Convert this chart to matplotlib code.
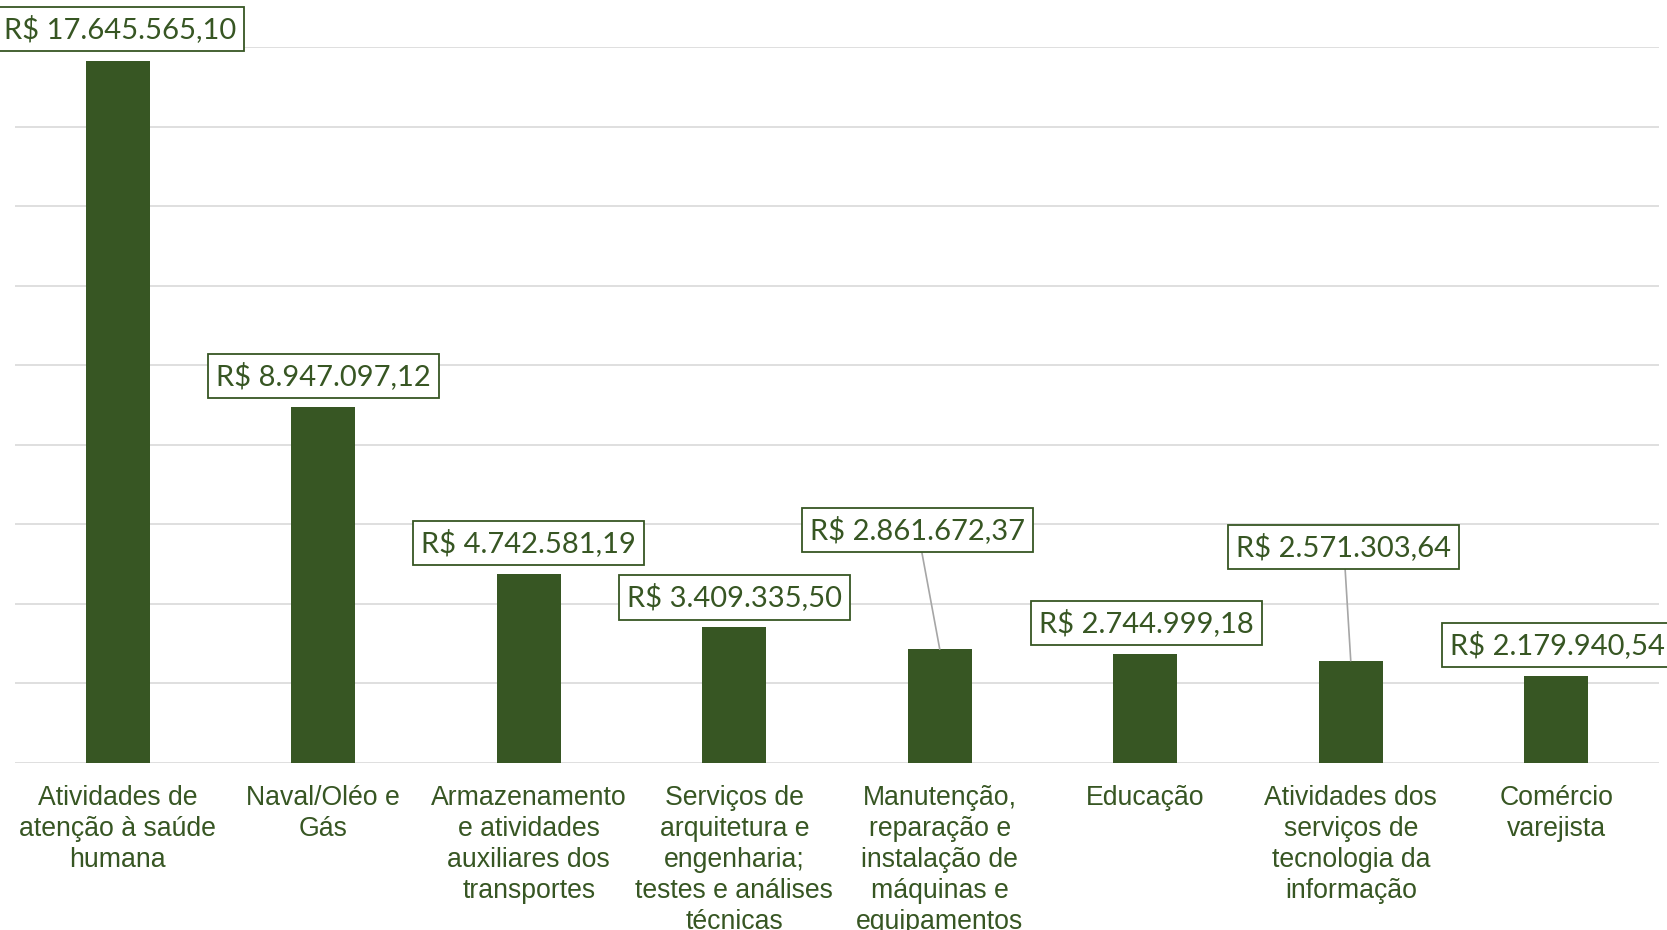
import matplotlib
matplotlib.use("Agg")
import matplotlib.pyplot as plt

categories = [
    "Atividades de\natenção à saúde\nhumana",
    "Naval/Oléo e\nGás",
    "Armazenamento\ne atividades\nauxiliares dos\ntransportes",
    "Serviços de\narquitetura e\nengenharia;\ntestes e análises\ntécnicas",
    "Manutenção,\nreparação e\ninstalação de\nmáquinas e\nequipamentos",
    "Educação",
    "Atividades dos\nserviços de\ntecnologia da\ninformação",
    "Comércio\nvarejista",
]
values = [17645565.10, 8947097.12, 4742581.19, 3409335.50,
          2861672.37, 2744999.18, 2571303.64, 2179940.54]
y_ticks = [0, 2e6, 4e6, 6e6, 8e6, 10e6, 12e6, 14e6, 16e6, 18e6]

# label offsets (pixels, relative to bar top centre)
label_offsets_px = [(2, 32), (0, 31), (0, 31), (0, 30),
                    (-22, 119), (1, 31), (-7, 114), (1, 31)]

GREEN = "#375623"
GRID = "#D9D9D9"


def brl(v):
    s = f"{v:,.2f}"
    s = s.replace(",", "X").replace(".", ",").replace("X", ".")
    return "R$ " + s


fig = plt.figure(figsize=(16.67, 9.30), dpi=100)
ax = fig.add_axes([15 / 1667, 1 - 763 / 930, (1659 - 15) / 1667, (763 - 47) / 930])

x = list(range(len(categories)))
ax.bar(x, values, width=0.31, color=GREEN, zorder=3)
ax.set_xlim(-0.5, len(categories) - 0.5)
ax.set_ylim(0, 18e6)
ax.set_yticks(y_ticks)
ax.yaxis.grid(True, color=GRID, linewidth=1.2, zorder=0)
ax.tick_params(axis="y", left=False, labelleft=False)
ax.tick_params(axis="x", bottom=False, pad=12)
for s in ax.spines.values():
    s.set_visible(False)
ax.set_xticks(x)
ax.set_xticklabels(categories, fontsize=19.2, color=GREEN,
                   family="Liberation Sans", linespacing=1.26, va="top")

px2pt = 72 / 100
for i, v in enumerate(values):
    dx, dy = label_offsets_px[i]
    far = dy > 60
    ax.annotate(
        brl(v), xy=(i, v), xytext=(dx * px2pt, dy * px2pt),
        textcoords="offset points", ha="center", va="center",
        fontsize=21, color=GREEN, family="Lato",
        bbox=dict(boxstyle="square,pad=0.28", fc="white", ec=GREEN, lw=1.3),
        arrowprops=(dict(arrowstyle="-", color="#A6A6A6", lw=1.2,
                         shrinkA=0, shrinkB=0) if far else None),
        annotation_clip=False, zorder=5,
    )

fig.savefig("out.png", dpi=100)
